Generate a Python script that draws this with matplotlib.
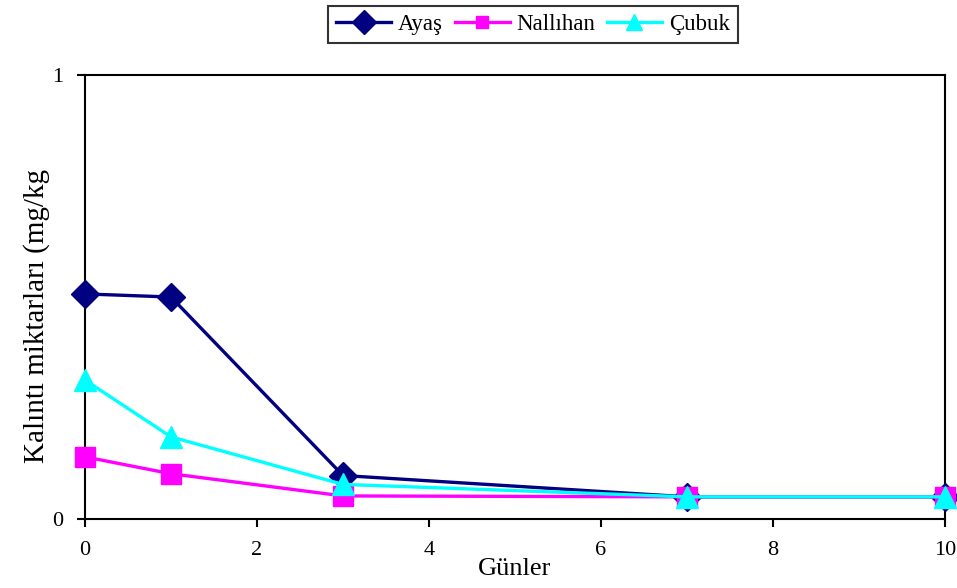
import matplotlib.pyplot as plt

gunler = [0, 1, 3, 7, 10]
ayas = [0.507, 0.50, 0.098, 0.05, 0.05]
nallihan = [0.14, 0.102, 0.052, 0.05, 0.05]
cubuk = [0.313, 0.185, 0.078, 0.05, 0.05]

x_ticks = [0, 2, 4, 6, 8, 10]
y_ticks = [0, 1]


def main():
    plt.rcParams['font.family'] = ['Liberation Serif', 'DejaVu Serif']
    fig = plt.figure(figsize=(9.57, 5.88), dpi=100)
    ax = fig.add_axes([0.0888, 0.1173, 0.8987, 0.7551])

    ax.plot(gunler, ayas, color='#000080', lw=2.4, marker='D', ms=14,
            label='Ayaş', clip_on=False, zorder=3)
    ax.plot(gunler, nallihan, color='#FF00FF', lw=2.4, marker='s', ms=15,
            label='Nallıhan', clip_on=False, zorder=4)
    ax.plot(gunler, cubuk, color='#00FFFF', lw=2.4, marker='^', ms=16,
            label='Çubuk', clip_on=False, zorder=5)

    ax.set_xlim(0, 10)
    ax.set_ylim(0, 1)
    ax.set_xticks(x_ticks)
    ax.set_yticks(y_ticks)
    ax.tick_params(direction='out', length=6, width=1.5, labelsize=16)
    ax.tick_params(axis='x', pad=10)
    ax.tick_params(axis='y', pad=10)
    for s in ax.spines.values():
        s.set_linewidth(1.5)

    ax.set_xlabel('Günler', fontsize=19)
    ax.xaxis.set_label_coords(0.5, -0.088)
    ax.set_ylabel('Kalıntı miktarları (mg/kg', fontsize=21)
    ax.yaxis.set_label_coords(-0.041, 0.457)

    leg = ax.legend(loc='center', bbox_to_anchor=(0.521, 1.113), ncol=3,
                    fontsize=16.5, frameon=True, fancybox=False, handlelength=2.4,
                    handletextpad=0.3, columnspacing=0.5, borderpad=0.35,
                    edgecolor='black')
    leg.get_frame().set_linewidth(1.5)
    for h, ms in zip(leg.legend_handles, [12, 9, 12]):
        h.set_markersize(ms)

    fig.savefig('out.png', dpi=100)


if __name__ == '__main__':
    main()
